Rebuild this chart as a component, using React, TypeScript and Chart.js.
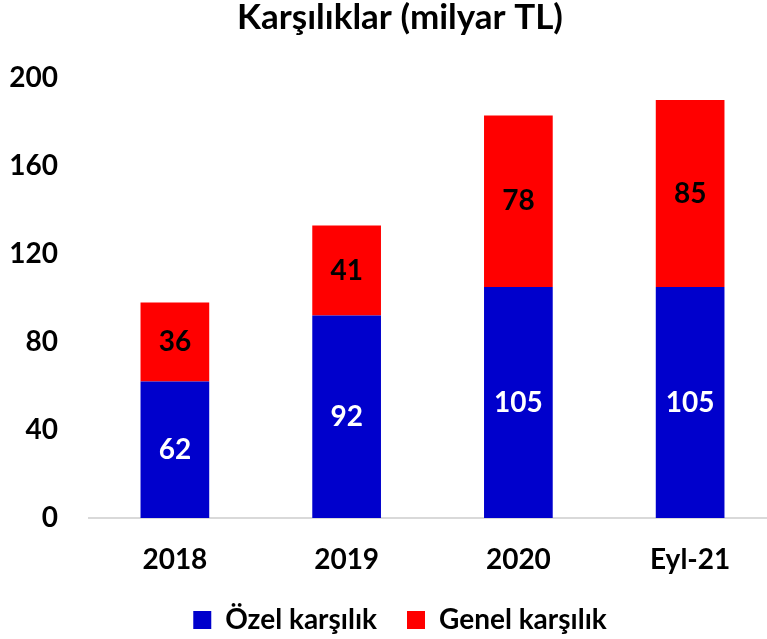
import React, { useEffect, useRef } from "react";
import { Chart, registerables } from "chart.js";

Chart.register(...registerables);

const chartTitle = "Karşılıklar (milyar TL)";
const categories = ["2018", "2019", "2020", "Eyl-21"];
const seriesNames = ["Özel karşılık", "Genel karşılık"];
const ozelValues = [62, 92, 105, 105];
const genelValues = [36, 41, 78, 85];
const yMin = 0;
const yMax = 200;
const yStep = 40;

const FONT = "Lato, 'Open Sans', sans-serif";

const dataLabelPlugin = {
  id: "dataLabels",
  afterDatasetsDraw(chart: any) {
    const ctx = chart.ctx;
    ctx.save();
    ctx.font = `bold 28px ${FONT}`;
    ctx.textAlign = "center";
    ctx.textBaseline = "middle";
    chart.data.datasets.forEach((ds: any, di: number) => {
      const meta = chart.getDatasetMeta(di);
      meta.data.forEach((bar: any, i: number) => {
        const v = ds.data[i];
        const cy = (bar.y + bar.base) / 2;
        ctx.fillStyle = di === 0 ? "#FFFFFF" : "#000000";
        ctx.fillText(String(v), bar.x, cy);
      });
    });
    ctx.restore();
  },
};

export default function App() {
  const ref = useRef<HTMLCanvasElement | null>(null);
  useEffect(() => {
    if (!ref.current) return;
    const chart = new Chart(ref.current, {
      type: "bar",
      data: {
        labels: categories,
        datasets: [
          {
            label: seriesNames[0],
            data: ozelValues,
            backgroundColor: "#0000CC",
            barPercentage: 0.8,
            categoryPercentage: 0.5,
            yAxisID: "y",
          },
          {
            label: seriesNames[1],
            data: genelValues,
            backgroundColor: "#FF0000",
            barPercentage: 0.8,
            categoryPercentage: 0.5,
            yAxisID: "y",
          },
        ],
      },
      options: {
        responsive: false,
        animation: false,
        devicePixelRatio: 1,
        layout: { padding: 0 },
        plugins: {
          title: {
            display: true,
            text: chartTitle,
            color: "#000000",
            font: { family: FONT, size: 35, weight: "bold", lineHeight: 1 },
            padding: { top: 0, bottom: 43 },
          },
          legend: {
            display: true,
            position: "bottom",
            maxHeight: 63,
            labels: {
              color: "#000000",
              font: { family: FONT, size: 28, weight: "bold" },
              boxWidth: 18,
              boxHeight: 18,
              padding: 30,
            },
          },
          tooltip: { enabled: false },
        },
        scales: {
          x: {
            stacked: true,
            grid: { display: false, drawTicks: false },
            border: { display: true, color: "#D9D9D9", width: 2 },
            ticks: {
              color: "#000000",
              font: { family: FONT, size: 28, weight: "bold", lineHeight: 1.2 },
              padding: 25,
            },
            afterFit: (scale: any) => {
              scale.height = 58;
            },
          },
          y: {
            stacked: true,
            position: "left",
            min: yMin,
            max: yMax,
            grid: { display: false, drawTicks: false },
            border: { display: false },
            ticks: {
              stepSize: yStep,
              color: "#000000",
              font: { family: FONT, size: 28, weight: "bold" },
              padding: 31,
            },
            afterFit: (scale: any) => {
              scale.width = 89;
            },
          },
          yRight: {
            type: "linear",
            position: "right",
            display: true,
            grid: { display: false, drawTicks: false },
            border: { display: false },
            ticks: { display: false },
            afterFit: (scale: any) => {
              scale.width = 24;
            },
          },
        },
      },
      plugins: [dataLabelPlugin],
    });
    return () => chart.destroy();
  }, []);

  return (
    <div
      style={{
        position: "fixed",
        left: 0,
        top: 0,
        width: 767,
        height: 639,
        overflow: "hidden",
        background: "#FFFFFF",
      }}
    >
      <canvas ref={ref} width={800} height={639} style={{ display: "block" }} />
    </div>
  );
}
